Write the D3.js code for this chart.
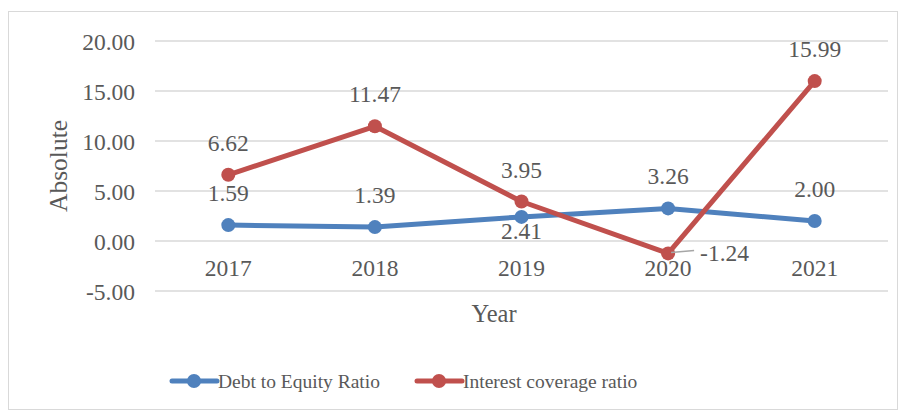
<!DOCTYPE html>
<html><head><meta charset="utf-8">
<script src="https://cdn.jsdelivr.net/npm/d3@7"></script>
<style>body{margin:0;background:#fff}svg{display:block}</style>
</head><body><svg id="c" width="901" height="412"></svg>
<script>
const years = ["2017","2018","2019","2020","2021"];
const debtToEquity = [1.59, 1.39, 2.41, 3.26, 2.00];
const interestCoverage = [6.62, 11.47, 3.95, -1.24, 15.99];
const yTicks = [-5, 0, 5, 10, 15, 20];
const seriesNames = ["Debt to Equity Ratio", "Interest coverage ratio"];
const colors = ["#4f81bd", "#c0504d"];
// label placement per point: a=above, b=below, r=right
const labelPos = [["a","a","b","a","a"],["a","a","a","r","a"]];

const FONT = "Liberation Serif, Times New Roman, serif";
const fmt = v => v.toFixed(2);
const svg = d3.select("#c");
function txt(sel, size){ return sel.style("font-family",FONT).style("font-size",size+"px").style("fill","#595959"); }

svg.append("rect").attr("x",8.5).attr("y",11.5).attr("width",889).attr("height",398).attr("fill","#fff").attr("stroke","#d9d9d9");

const x = d3.scaleBand().domain(years).range([155,888]);
const y = d3.scaleLinear().domain([-5,20]).range([291,41]);

const g = svg.append("g");
g.selectAll("line.grid").data(yTicks).join("line").attr("class","grid")
  .attr("x1",155).attr("x2",888).attr("y1",d=>y(d)).attr("y2",d=>y(d))
  .attr("stroke","#d9d9d9").attr("stroke-width",1.5);

const yAxis = g.append("g").attr("transform","translate(155,0)")
  .call(d3.axisLeft(y).tickValues(yTicks).tickFormat(fmt).tickSize(0).tickPadding(20));
yAxis.select(".domain").remove();
txt(yAxis.selectAll("text"),23.5).attr("dy","0.35em");

const xAxis = g.append("g").attr("transform",`translate(0,${y(0)})`)
  .call(d3.axisBottom(x).tickSize(0).tickPadding(18));
xAxis.select(".domain").remove();
txt(xAxis.selectAll("text"),23.5);

txt(svg.append("text").attr("transform","translate(67,166) rotate(-90)").attr("text-anchor","middle"),25.5).text("Absolute");
txt(svg.append("text").attr("x",494).attr("y",322).attr("text-anchor","middle"),24.5).text("Year");

const series = [debtToEquity, interestCoverage];
const cx = d => x(d) + x.bandwidth()/2;
const line = d3.line().x((d,i)=>cx(years[i])).y(d=>y(d));
series.forEach((s,k)=>{
  g.append("path").attr("d",line(s)).attr("fill","none").attr("stroke",colors[k]).attr("stroke-width",5).attr("stroke-linejoin","round");
});
series.forEach((s,k)=>{
  g.selectAll(null).data(s).join("circle").attr("cx",(d,i)=>cx(years[i])).attr("cy",d=>y(d)).attr("r",7).attr("fill",colors[k]);
});
series.forEach((s,k)=>{
  s.forEach((v,i)=>{
    const p = labelPos[k][i];
    const px = cx(years[i]), py = y(v);
    if(p==="a"){
      txt(g.append("text").attr("x",px).attr("y",py-24).attr("text-anchor","middle"),23.5).text(fmt(v));
    } else if(p==="b"){
      txt(g.append("text").attr("x",px).attr("y",py+22).attr("text-anchor","middle"),23.5).text(fmt(v));
    } else {
      g.append("line").attr("x1",px+3).attr("x2",px+26).attr("y1",py-1).attr("y2",py-3).attr("stroke","#a6a6a6").attr("stroke-width",1.5);
      txt(g.append("text").attr("x",px+32).attr("y",py+8).attr("text-anchor","start"),23.5).text(fmt(v));
    }
  });
});

const leg = svg.append("g");
const legX = [172, 417];
seriesNames.forEach((n,k)=>{
  const lx = legX[k], ly = 381;
  leg.append("line").attr("x1",lx).attr("x2",lx+45).attr("y1",ly).attr("y2",ly).attr("stroke",colors[k]).attr("stroke-width",5).attr("stroke-linecap","round");
  leg.append("circle").attr("cx",lx+22).attr("cy",ly).attr("r",7).attr("fill",colors[k]);
  txt(leg.append("text").attr("x",lx+46).attr("y",ly+7),19.5).text(n);
});
</script></body></html>
